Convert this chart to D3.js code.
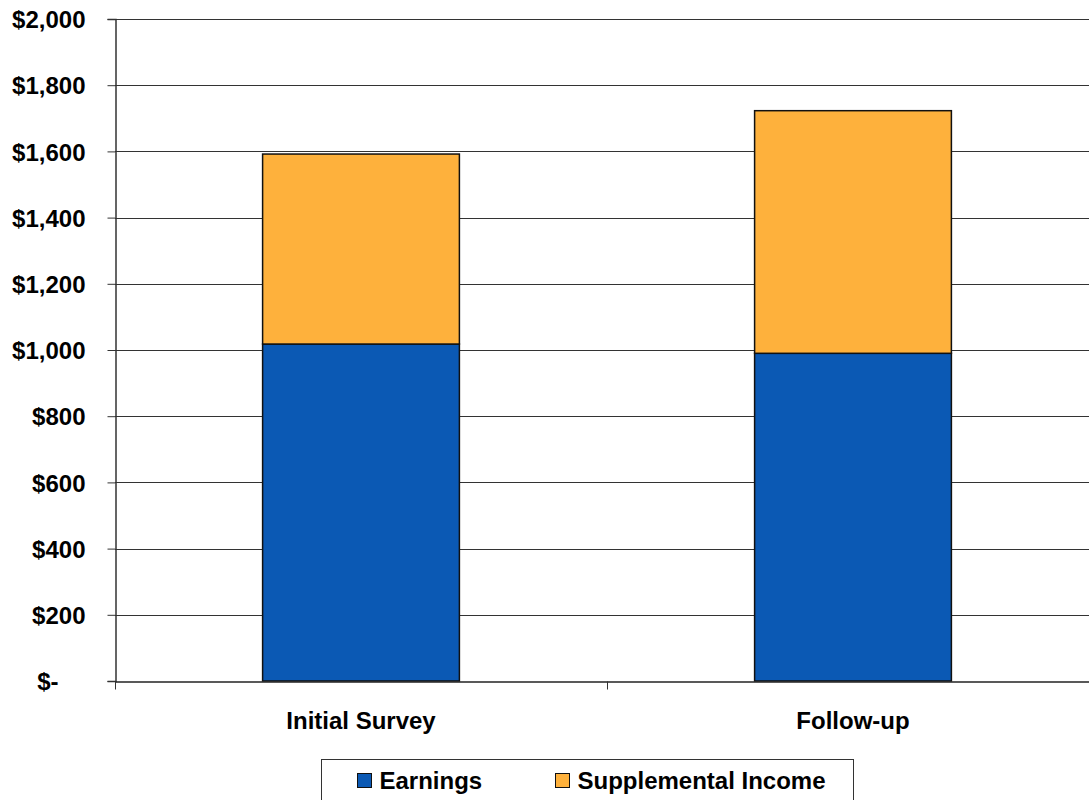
<!DOCTYPE html>
<html>
<head>
<meta charset="utf-8">
<script src="https://cdn.jsdelivr.net/npm/d3@7"></script>
<style>
  html, body { margin: 0; padding: 0; background: #fff; }
  svg { display: block; font-family: "Liberation Sans", Arial, sans-serif; font-weight: bold; }
</style>
</head>
<body>
<svg id="chart" width="1089" height="800"></svg>
<script>
// Monthly income by survey wave, stacked by source
const categories = ["Initial Survey", "Follow-up"];
const seriesNames = ["Earnings", "Supplemental Income"];
const earnings = [1018, 990];
const supplemental = [574, 733];
const yTicks = [0, 200, 400, 600, 800, 1000, 1200, 1400, 1600, 1800, 2000];
const colors = ["#0B59B4", "#FEB13C"];

const svg = d3.select("#chart");
const margin = { left: 115, top: 19 };
const x = d3.scaleBand().domain(categories).range([margin.left, margin.left + 984]).paddingInner(0).paddingOuter(0);
const y = d3.scaleLinear().domain([0, 2000]).range([681, margin.top]);

const rows = categories.map((c, i) => ({ cat: c, Earnings: earnings[i], "Supplemental Income": supplemental[i] }));
const stacked = d3.stack().keys(seriesNames)(rows);

// horizontal gridlines
svg.append("g")
  .selectAll("line")
  .data(yTicks.filter(d => d > 0))
  .join("line")
  .attr("x1", margin.left).attr("x2", 1089)
  .attr("y1", d => Math.round(y(d)) + 0.5).attr("y2", d => Math.round(y(d)) + 0.5)
  .attr("stroke", "#333").attr("stroke-width", 1);

// stacked bars
const barW = x.bandwidth() * 0.4;
svg.append("g")
  .selectAll("g")
  .data(stacked)
  .join("g")
  .attr("fill", (d, i) => colors[i])
  .selectAll("rect")
  .data(d => d)
  .join("rect")
  .attr("x", d => x(d.data.cat) + (x.bandwidth() - barW) / 2)
  .attr("width", barW)
  .attr("y", d => y(d[1]))
  .attr("height", d => y(d[0]) - y(d[1]))
  .attr("stroke", "#111")
  .attr("stroke-width", 1.5);

// y axis
const yAxis = d3.axisLeft(y)
  .tickValues(yTicks)
  .tickSize(8)
  .tickPadding(22)
  .tickFormat(d => d === 0 ? "$-" : "$" + d3.format(",")(d));
const gy = svg.append("g").attr("transform", `translate(${margin.left + 0.5},0)`).call(yAxis);
gy.select(".domain").attr("stroke", "#333").attr("stroke-width", 1.5);
gy.selectAll(".tick line").attr("stroke", "#333");
gy.selectAll("text").attr("font-size", 24).attr("fill", "#000").attr("dy", "0.36em");
gy.selectAll(".tick").filter(d => d === 0).select("text").attr("dx", -27);

// x axis
const xAxis = d3.axisBottom(x).tickSize(0).tickPadding(30);
const gx = svg.append("g").attr("transform", `translate(0,${681.5})`).call(xAxis);
gx.select(".domain").attr("stroke", "#222").attr("stroke-width", 1.5);
gx.selectAll("text").attr("font-size", 24).attr("fill", "#000");
// category boundary ticks
const bounds = [x.range()[0], x(categories[1]), x.range()[1]];
gx.selectAll(".bound")
  .data(bounds)
  .join("line")
  .attr("class", "bound")
  .attr("x1", d => d + 0.5).attr("x2", d => d + 0.5)
  .attr("y1", 0).attr("y2", 8)
  .attr("stroke", "#333");

// legend
const lg = svg.append("g").attr("transform", "translate(321.5,759.5)");
lg.append("rect").attr("width", 532).attr("height", 60).attr("fill", "#fff").attr("stroke", "#333").attr("stroke-width", 1);
const items = [
  { name: seriesNames[0], color: colors[0], x: 36 },
  { name: seriesNames[1], color: colors[1], x: 234 }
];
const li = lg.selectAll(".item").data(items).join("g").attr("class", "item")
  .attr("transform", d => `translate(${d.x},12)`);
li.append("rect").attr("width", 14).attr("height", 14).attr("y", 2)
  .attr("fill", d => d.color).attr("stroke", "#111").attr("stroke-width", 1);
li.append("text").attr("x", 22).attr("y", 17).attr("font-size", 24).attr("fill", "#000").text(d => d.name);
</script>
</body>
</html>
